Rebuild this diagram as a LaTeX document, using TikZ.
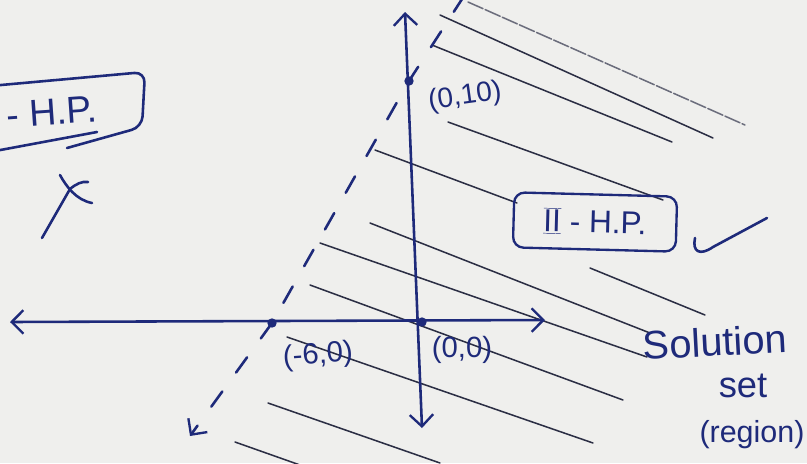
\documentclass[tikz,border=0pt]{standalone}
\usepackage{fontspec}
\setmainfont{Liberation Sans}
\usetikzlibrary{arrows.meta}
\definecolor{ink}{HTML}{1E2A7A}
\definecolor{pencil}{HTML}{2B2E44}
\definecolor{paper}{HTML}{EFEFED}
\begin{document}
\begin{tikzpicture}[x=0.03cm,y=-0.03cm,
  inkline/.style={draw=ink,line width=2.2pt,line cap=round,line join=round},
  hatch/.style={draw=pencil,line width=1.3pt,line cap=round},
  barb/.style={-{Straight Barb[length=10pt,width=20pt,line width=2pt]}},
  dbarb/.style={{Straight Barb[length=10pt,width=20pt,line width=2pt]}-{Straight Barb[length=10pt,width=20pt,line width=2pt]}},
  dot/.style={circle,fill=ink,inner sep=0pt,minimum size=8pt},
  lbl/.style={text=ink,inner sep=0pt},
  hpbox/.style={draw=ink,line width=2pt,rounded corners=9pt,text=ink},
]
\fill[paper] (0,0) rectangle (807,463);
\useasboundingbox (0,0) rectangle (807,463);
\clip (0,0) rectangle (807,463);

% hatch lines of the solution region
\draw[hatch,draw=pencil!70,dash pattern=on 14pt off 2pt] (468,2) -- (745,125);
\draw[hatch] (440,15) -- (713,138);
\draw[hatch] (432,45) -- (672,142);
\draw[hatch] (448,122) -- (663,200);
\draw[hatch] (375,150) -- (517,203);
\draw[hatch] (370,223) -- (650,333);
\draw[hatch] (320,243) -- (647,357);
\draw[hatch] (310,285) -- (623,400);
\draw[hatch] (287,337) -- (593,443);
\draw[hatch] (268,403) -- (440,463);
\draw[hatch] (235,442) -- (300,465);
\draw[hatch] (590,268) -- (705,315);

% axes
\coordinate (xl) at (10,322);
\coordinate (xr) at (545,320);
\coordinate (yt) at (405,12);
\coordinate (yb) at (422,428);
\draw[inkline,dbarb] (xl) -- (xr);
\draw[inkline,dbarb] (yb) -- (yt);

% points
\node[dot] (O) at (422,322) {};
\node[dot] (P) at (272,323) {};
\node[dot] (Q) at (409,81) {};

% boundary line (dashed)
\coordinate (dtop) at (464,-4);
\coordinate (dbot) at (190,436);
\draw[inkline,dash pattern=on 16pt off 20pt,barb] (dtop) -- (Q.center) -- (P.center) -- (dbot);

% point labels
\node[lbl,font=\fontsize{24pt}{26pt}\selectfont,rotate=8] (l010) at (465,97) {(0,10)};
\node[lbl,font=\fontsize{25pt}{27pt}\selectfont,rotate=4] (l60) at (318,356) {(-6,0)};
\node[lbl,font=\fontsize{25pt}{27pt}\selectfont] (l00) at (462,350) {(0,0)};

% I - H.P. box (cut by the left edge)
\draw[inkline,rounded corners=9pt] (-10,86) -- (145,72) -- (142,127) -- (67,148);
\draw[inkline] (-5,151) -- (97,132);
\node[lbl,font=\fontsize{32pt}{34pt}\selectfont,rotate=4] (hp1) at (52,112) {- H.P.};
% cross
\draw[inkline] (42,238) -- (70,189) .. controls (76,184) and (82,181) .. (88,182);
\draw[inkline] (60,175) .. controls (66,186) and (76,200) .. (92,203);

% II - H.P. box
\node[hpbox,font=\fontsize{27pt}{29pt}\selectfont,minimum width=139pt,minimum height=47pt,rotate=-1.5] (hp2) at (595,222) {$\overline{\hbox{\underline{II}}}$ - H.P.};
% tick mark
\draw[inkline] (695,238) .. controls (692,252) and (700,256) .. (713,247) -- (767,218);

% solution set label
\node[lbl,font=\fontsize{34pt}{36pt}\selectfont,rotate=3] (sol) at (715,342) {Solution};
\node[lbl,font=\fontsize{31pt}{33pt}\selectfont] (set) at (743,386) {set};
\node[lbl,font=\fontsize{26pt}{28pt}\selectfont] (reg) at (752,435) {(region)};
\end{tikzpicture}
\end{document}
